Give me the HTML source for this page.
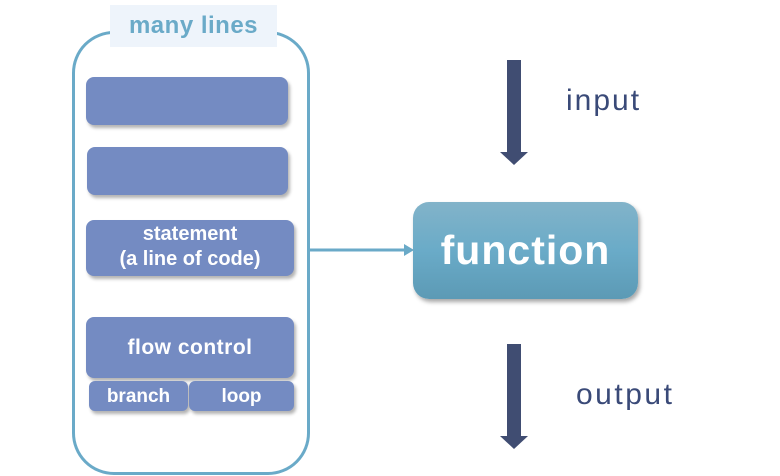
<!DOCTYPE html>
<html><head><style>
body{margin:0;width:780px;height:476px;background:#fff;position:relative;overflow:hidden;font-family:"Liberation Sans",sans-serif}
.a{position:absolute}
.b{position:absolute;background:#748bc2;border-radius:8px;box-shadow:2px 3px 3px rgba(0,0,0,0.3);color:#fff;font-weight:bold;text-align:center}
</style></head><body>
<div class="a" style="left:72px;top:31px;width:232px;height:438px;border:3px solid #6aaac8;border-radius:42px"></div>
<div class="a" style="left:110px;top:5px;width:167px;height:42px;background:#eef4fb;color:#6aaac8;font-weight:bold;font-size:24px;line-height:42px;text-align:center;letter-spacing:0.5px">many lines</div>
<div class="b" style="left:86px;top:77px;width:202px;height:48px"></div>
<div class="b" style="left:87px;top:147px;width:201px;height:48px"></div>
<div class="b" style="left:86px;top:220px;width:208px;height:56px;font-size:20px;line-height:25px;padding-top:2px;box-sizing:border-box">statement<br>(a line of code)</div>
<div class="b" style="left:86px;top:317px;width:208px;height:61px;font-size:21px;line-height:61px;letter-spacing:0.5px">flow control</div>
<div class="b" style="left:89px;top:381px;width:99px;height:30px;font-size:19px;line-height:32px;border-radius:6px">branch</div>
<div class="b" style="left:189px;top:381px;width:105px;height:30px;font-size:19px;line-height:32px;border-radius:6px">loop</div>
<svg class="a" style="left:0;top:0" width="780" height="476">
<line x1="307" y1="250" x2="405" y2="250" stroke="#6aaac8" stroke-width="3"/>
<polygon points="404,244 414,250 404,256" fill="#6aaac8"/>
<rect x="507" y="60" width="14" height="93" fill="#404d72"/>
<polygon points="500,152 528,152 514,165" fill="#404d72"/>
<rect x="507" y="344" width="14" height="93" fill="#404d72"/>
<polygon points="500,436 528,436 514,449" fill="#404d72"/>
</svg>
<div class="a" style="left:413px;top:202px;width:225px;height:97px;border-radius:16px;background:linear-gradient(#82b3c9,#6aabc8 50%,#5c9ab5);box-shadow:2px 3px 4px rgba(0,0,0,0.35);color:#fff;font-weight:bold;font-size:41px;line-height:97px;text-align:center;letter-spacing:1px">function</div>
<div class="a" style="left:566px;top:84px;font-size:30px;color:#3a4a78;letter-spacing:2px">input</div>
<div class="a" style="left:576px;top:378px;font-size:30px;color:#3a4a78;letter-spacing:2.5px">output</div>
</body></html>
